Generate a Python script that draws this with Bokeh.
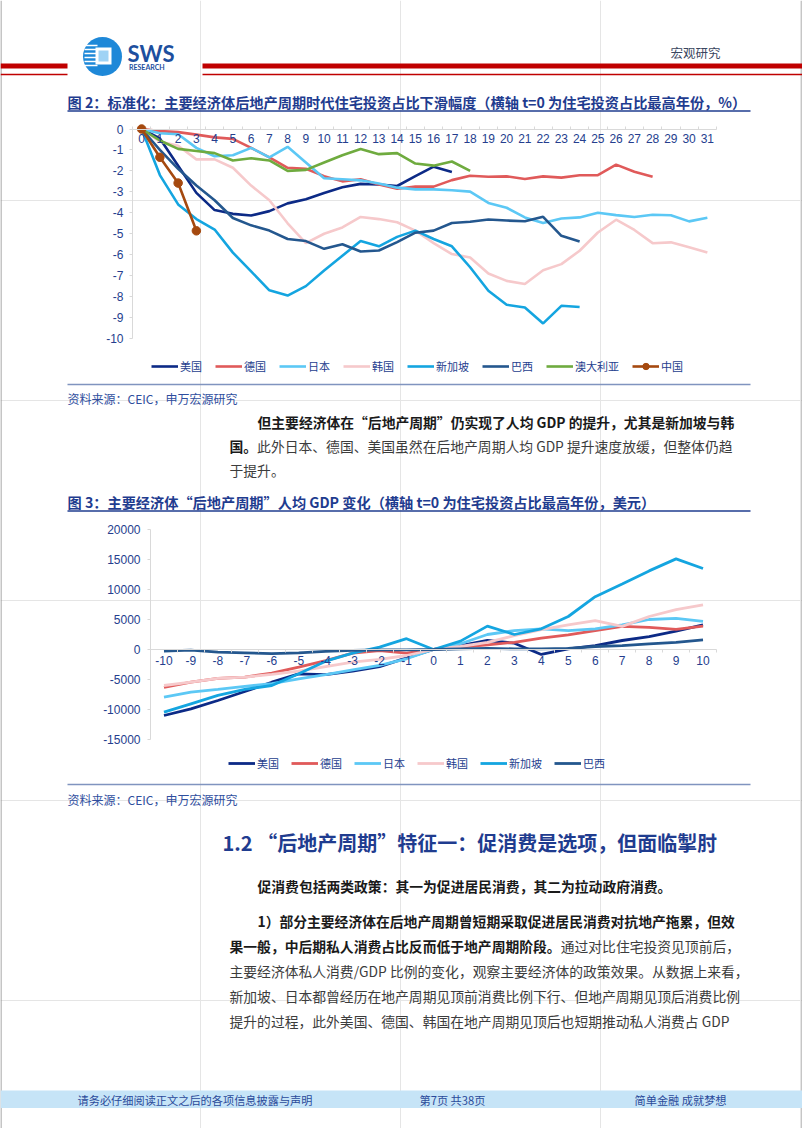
from bokeh.plotting import figure
from bokeh.models import Range1d, LinearAxis, FixedTicker, Legend, LegendItem
from bokeh.core.properties import value
from bokeh.embed import file_html
from bokeh.resources import INLINE

# ---------------- data ----------------
names = ["美国", "德国", "日本", "韩国", "新加坡", "巴西", "澳大利亚", "中国"]
colors = ["#0c2a86", "#e05a5a", "#5cc8f5", "#f6c9cb", "#14a5e0", "#24578e", "#6fab3f", "#a5490f"]

# Figure 2: decline of residential investment share (t=0 = peak year, %)
us1 = [0, -0.45, -1.75, -3.05, -3.87, -4.05, -4.13, -3.92, -3.55, -3.35, -3.05, -2.78, -2.62, -2.65, -2.72, -2.25, -1.8, -2.05]
de1 = [0, -0.1, -0.15, -0.27, -0.4, -0.47, -0.9, -1.35, -1.85, -1.9, -2.25, -2.5, -2.4, -2.65, -2.85, -2.75, -2.75, -2.44,
       -2.23, -2.28, -2.26, -2.39, -2.26, -2.32, -2.21, -2.2, -1.7, -2.04, -2.28]
jp1 = [0, -0.2, -0.25, -0.9, -1.3, -1.25, -0.9, -1.35, -0.85, -1.6, -2.35, -2.4, -2.45, -2.6, -2.8, -2.88, -2.88, -2.92,
       -2.99, -3.53, -3.76, -4.22, -4.49, -4.27, -4.22, -4.0, -4.11, -4.2, -4.09, -4.12, -4.41, -4.24]
kr1 = [0, -0.6, -0.8, -1.45, -1.45, -1.85, -2.7, -3.4, -4.5, -5.45, -5.0, -4.7, -4.2, -4.3, -4.45, -4.85, -5.45, -5.97,
       -6.13, -6.9, -7.25, -7.4, -6.74, -6.45, -5.81, -4.94, -4.33, -4.82, -5.45, -5.41, -5.65, -5.89]
sg1 = [0, -2.2, -3.6, -4.3, -4.8, -5.9, -6.8, -7.7, -7.95, -7.5, -6.75, -6.05, -5.35, -5.6, -5.15, -4.85, -5.25, -5.6,
       -6.6, -7.72, -8.39, -8.52, -9.28, -8.44, -8.5]
br1 = [0, -1.0, -1.9, -2.7, -3.4, -4.25, -4.6, -4.85, -5.25, -5.35, -5.72, -5.5, -5.85, -5.8, -5.4, -4.95, -4.85, -4.49,
       -4.43, -4.32, -4.37, -4.4, -4.19, -5.1, -5.37]
au1 = [0, -0.55, -0.95, -1.05, -1.15, -1.5, -1.4, -1.5, -2.0, -1.95, -1.6, -1.25, -0.95, -1.2, -1.15, -1.65, -1.75, -1.55, -2.0]
cn1 = [0, -1.35, -2.58, -4.86]
series1 = [us1, de1, jp1, kr1, sg1, br1, au1, cn1]
xticks1 = list(range(0, 32))
yticks1 = list(range(-10, 1))

# Figure 3: change of GDP per capita (t=0 = peak year, USD)
t2 = list(range(-10, 11))
us2 = [-11000, -9900, -8500, -7000, -5450, -4050, -4200, -3600, -2850, -1400, 0, 650, 1500, 1050, -830, 100, 650, 1500, 2150, 3050, 4100]
de2 = [-6300, -5450, -4800, -4600, -3950, -2950, -1850, -600, -170, -600, 0, 400, 780, 1200, 1900, 2450, 3150, 3850, 3700, 3350, 3900]
jp2 = [-7950, -7100, -6650, -6150, -5700, -4900, -4200, -3400, -2650, -1550, 0, 950, 2500, 3150, 3450, 3150, 3450, 4100, 5000, 5200, 4700]
kr2 = [-6000, -5450, -4800, -4600, -4150, -3600, -2850, -2100, -1650, -1000, 0, 500, 1200, 2300, 3300, 4100, 4800, 3850, 5500, 6650, 7450]
sg2 = [-10450, -9050, -7650, -6650, -6000, -4050, -1950, -600, 400, 1800, 0, 1400, 3900, 2500, 3450, 5500, 8800, 10900, 13100, 15100, 13500]
br2 = [-250, -100, -450, -550, -700, -550, -300, -150, -50, -50, 0, 100, 200, 100, 100, 200, 500, 650, 950, 1200, 1600]
series2 = [us2, de2, jp2, kr2, sg2, br2]
yticks2 = list(range(-15000, 20001, 5000))

# ---------------- style ----------------
CJK = "Noto Sans CJK SC"
NUM = "Liberation Sans"
W, H = 802, 1128
NAVY = "#1f3c8f"
AXC = "#d9d9d9"
LAB = "#253e8e"
BOLDC = "#1a1a1a"
REGC = "#3c3c3c"
FS = 13.8


def xr(d0, d1, p0, p1):
    # x range whose data d0/d1 fall on canvas pixels p0/p1
    k = (p1 - p0) / (d1 - d0)
    a = d0 - p0 / k
    return Range1d(a, a + W / k)


def yr(d_top, d_bot, p_top, p_bot):
    # y range whose data d_top/d_bot fall on canvas pixels p_top/p_bot (from top)
    k = (p_bot - p_top) / (d_top - d_bot)
    top = d_top + p_top / k
    return Range1d(top - H / k, top)


p = figure(width=W, height=H, x_range=Range1d(0, W), y_range=Range1d(H, 0),
           output_backend="svg", toolbar_location=None, x_axis_location=None, y_axis_location=None,
           min_border=0, outline_line_color=None)
p.extra_x_ranges = {"c1x": xr(-0.5, 31.5, 132, 716), "c2x": xr(-10.5, 10.5, 150, 716)}
p.extra_y_ranges = {"c1y": yr(0, -10, 128.5, 338), "c2y": yr(20000, -15000, 529, 739)}


def txt(x, y, s, size, color, bold=False, font=CJK, align="left"):
    p.text(x=[x], y=[y], text=[s], text_font=value(font), text_font_size=f"{size}px",
           text_font_style="bold" if bold else "normal", text_color=color,
           text_baseline="middle", text_align=align)


def hline(x0, x1, y, color, w):
    p.segment(x0=[x0], y0=[y], x1=[x1], y1=[y], line_color=color, line_width=w)


def style_axis(ax, standoff, ticks):
    ax.axis_line_color = AXC
    ax.major_label_standoff = standoff
    ax.major_label_text_font = NUM
    ax.major_label_text_font_size = "12px"
    ax.major_label_text_color = LAB
    ax.major_label_overrides = {t: str(t) for t in ticks}


# ---------------- page frame & header ----------------
p.segment(x0=[0.5, W - 0.5], y0=[0, 0], x1=[0.5, W - 0.5], y1=[H, H], line_color="#8c8c8c", line_width=1)
p.quad(left=[0, 202], right=[67, W], top=[63, 63], bottom=[68, 68], fill_color="#c00000", line_color=None)
p.quad(left=[0, 202], right=[67, W], top=[73.3, 73.3], bottom=[74.8, 74.8], fill_color="#c00000", line_color=None)
p.circle(x=[102], y=[56], radius=19.5, fill_color="#1e88d8", line_color=None)
for yy in [45, 49, 53, 57, 61, 65]:
    hline(84, 97, yy, "white", 1.6)
p.quad(left=[95], right=[111], top=[47], bottom=[64], fill_color="white", line_color=None)
p.quad(left=[98], right=[108], top=[50], bottom=[61], fill_color="#9fd3f5", line_color=None)
txt(127, 53, "SWS", 22, "#1d4f9e", bold=True, font="Lato")
txt(128.5, 66.5, "RESEARCH", 7, "#1d4f9e", bold=True, font="Lato")
txt(670, 52, "宏观研究", 12.5, "#3a4660")
txt(67, 101, "图 2：标准化：主要经济体后地产周期时代住宅投资占比下滑幅度（横轴 t=0 为住宅投资占比最高年份，%）",
    14.2, NAVY, bold=True)
hline(67, 750, 110.5, NAVY, 1.5)

# ---------------- chart 1 ----------------
ya1 = LinearAxis(x_range_name="c1x", y_range_name="c1y", fixed_location=-0.5, bounds=(-10, 0),
                 ticker=FixedTicker(ticks=yticks1))
style_axis(ya1, 6, yticks1)
ya1.major_tick_line_color = AXC
ya1.major_tick_out = 3
ya1.major_tick_in = 0
ya1.minor_tick_line_color = None
p.add_layout(ya1, "left")

xa1 = LinearAxis(x_range_name="c1x", y_range_name="c1y", fixed_location=0, bounds=(-0.5, 31.5),
                 ticker=FixedTicker(ticks=xticks1, minor_ticks=[i - 0.5 for i in range(33)]))
style_axis(xa1, 5, xticks1)
xa1.major_tick_line_color = None
xa1.major_tick_out = 0
xa1.major_tick_in = 0
xa1.minor_tick_line_color = AXC
xa1.minor_tick_in = 3
xa1.minor_tick_out = 0
p.add_layout(xa1, "below")

items1 = []
for name, col, ys in zip(names, colors, series1):
    xs = list(range(len(ys)))
    r = p.line(xs, ys, line_color=col, line_width=2.6, x_range_name="c1x", y_range_name="c1y")
    rs = [r]
    if name == "中国":
        rs.append(p.scatter(xs, ys, size=8.5, fill_color=col, line_color=col,
                            x_range_name="c1x", y_range_name="c1y"))
    items1.append(LegendItem(label=name, renderers=rs))
leg1 = Legend(items=items1, orientation="horizontal", location=(151, H - 374),
              label_text_font=CJK, label_text_font_size="11px", label_text_color=LAB,
              glyph_width=27, glyph_height=16, label_height=16, label_standoff=2, spacing=13,
              padding=0, margin=0, border_line_color=None, background_fill_alpha=0)
p.add_layout(leg1, "center")

# ---------------- middle text ----------------
hline(67, 750, 384, "#8094bf", 1.5)
txt(67, 398, "资料来源：CEIC，申万宏源研究", 12, "#2f4e9e")
txt(257, 421.5, "但主要经济体在“后地产周期”仍实现了人均 GDP 的提升，尤其是新加坡与韩", FS, BOLDC, bold=True)
txt(229, 445.5, "国。", FS, BOLDC, bold=True)
txt(229 + 2 * FS, 445.5, "此外日本、德国、美国虽然在后地产周期人均 GDP 提升速度放缓，但整体仍趋", FS, REGC)
txt(229, 469.5, "于提升。", FS, REGC)
txt(67, 501.5, "图 3：主要经济体“后地产周期”人均 GDP 变化（横轴 t=0 为住宅投资占比最高年份，美元）", 14.2, NAVY, bold=True)
hline(67, 750, 510.5, NAVY, 1.5)

# ---------------- chart 2 ----------------
ya2 = LinearAxis(x_range_name="c2x", y_range_name="c2y", fixed_location=-10.5, bounds=(-15000, 20000),
                 ticker=FixedTicker(ticks=yticks2))
style_axis(ya2, 7, yticks2)
ya2.major_tick_line_color = AXC
ya2.major_tick_out = 3
ya2.major_tick_in = 0
ya2.minor_tick_line_color = None
p.add_layout(ya2, "left")

xa2 = LinearAxis(x_range_name="c2x", y_range_name="c2y", fixed_location=0, bounds=(-10.5, 10.5),
                 ticker=FixedTicker(ticks=t2, minor_ticks=[i - 0.5 for i in range(-10, 12)]))
style_axis(xa2, 3, t2)
xa2.major_tick_line_color = None
xa2.major_tick_out = 3
xa2.major_tick_in = 0
xa2.minor_tick_line_color = AXC
xa2.minor_tick_in = 0
xa2.minor_tick_out = 3
p.add_layout(xa2, "below")

items2 = []
for name, col, ys in zip(names[:6], colors[:6], series2):
    r = p.line(t2, ys, line_color=col, line_width=2.8, x_range_name="c2x", y_range_name="c2y")
    items2.append(LegendItem(label=name, renderers=[r]))
leg2 = Legend(items=items2, orientation="horizontal", location=(228, H - 771),
              label_text_font=CJK, label_text_font_size="11px", label_text_color=LAB,
              glyph_width=27, glyph_height=16, label_height=16, label_standoff=2, spacing=12,
              padding=0, margin=0, border_line_color=None, background_fill_alpha=0)
p.add_layout(leg2, "center")

# ---------------- lower text ----------------
hline(67, 750, 784, "#8094bf", 1.5)
txt(67, 799, "资料来源：CEIC，申万宏源研究", 12, "#2f4e9e")
txt(222, 842, "1.2  “后地产周期”特征一：促消费是选项，但面临掣肘", 20, NAVY, bold=True)
txt(257, 885, "促消费包括两类政策：其一为促进居民消费，其二为拉动政府消费。", FS, BOLDC, bold=True)
txt(257, 920, "1）部分主要经济体在后地产周期曾短期采取促进居民消费对抗地产拖累，但效", FS, BOLDC, bold=True)
txt(229, 945, "果一般，中后期私人消费占比反而低于地产周期阶段。", FS, BOLDC, bold=True)
txt(229 + 24 * FS, 945, "通过对比住宅投资见顶前后，", FS, REGC)
txt(229, 970, "主要经济体私人消费/GDP 比例的变化，观察主要经济体的政策效果。从数据上来看，", FS, REGC)
txt(229, 995, "新加坡、日本都曾经历在地产周期见顶前消费比例下行、但地产周期见顶后消费比例", FS, REGC)
txt(229, 1020, "提升的过程，此外美国、德国、韩国在地产周期见顶后也短期推动私人消费占  GDP", FS, REGC)
p.quad(left=[0], right=[W], top=[1090], bottom=[1107.5], fill_color="#c6e4f7", line_color=None)
txt(77, 1099, "请务必仔细阅读正文之后的各项信息披露与声明", 11.2, "#2a4a9a")
txt(419, 1099, "第7页 共38页", 11.2, "#2a4a9a")
txt(634, 1099, "简单金融 成就梦想", 11.2, "#2a4a9a")

open("out.html", "w").write(file_html(p, INLINE))
